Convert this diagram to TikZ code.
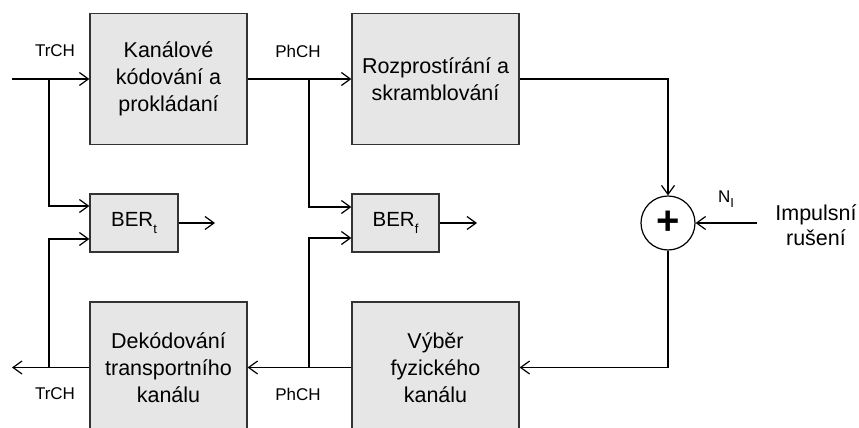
\documentclass[tikz,border=0pt]{standalone}
\usepackage{fontspec}
\setmainfont{Liberation Sans}
\usetikzlibrary{arrows.meta}
\definecolor{boxfill}{HTML}{E6E6E6}
\definecolor{boxdraw}{HTML}{333333}
\newcommand{\lowsub}[1]{\raisebox{-0.3em}{\fontsize{13}{13}\selectfont #1}}
\tikzset{
  blk/.style={draw=boxdraw, fill=boxfill, line width=1.2pt, inner sep=0pt, align=center,
    font=\fontsize{21.5}{27}\selectfont},
  bigblk/.style={blk, minimum width=157pt, minimum height=131pt},
  berblk/.style={blk, minimum width=88pt, minimum height=58pt, font=\fontsize{20.5}{24}\selectfont},
  arr/.style={line width=1.2pt, -{Straight Barb[length=9pt,width=13pt,line width=1.2pt]}},
  lbl/.style={font=\fontsize{17}{20}\selectfont, inner sep=0pt},
}
\begin{document}
\begin{tikzpicture}[x=1pt,y=-1pt]
\useasboundingbox (0,0) rectangle (859,428);
\clip (0,0) rectangle (859,428);
% blocks
\node[bigblk] (k1) at (168.5,79) {Kanálové\\kódování a\\prokládaní};
\node[bigblk, minimum width=167pt] (k2) at (435.5,79) {Rozprostírání a\\skramblování};
\node[berblk] (bt) at (134,223) {BER\lowsub{t}};
\node[berblk, minimum width=87pt] (bf) at (395.5,223) {BER\lowsub{f}};
\node[draw, circle, line width=1.2pt, minimum size=54pt, inner sep=0pt, font=\fontsize{40}{40}\selectfont\bfseries] (sum) at (668,223) {+};
\node[bigblk] (d1) at (168.5,367.5) {Dekódování\\transportního\\kanálu};
\node[bigblk, minimum width=167pt] (d2) at (435.5,367.5) {Výběr\\fyzického\\kanálu};
% coordinates
\coordinate (in) at (12,79);
\coordinate (b1) at (49,79);
\coordinate (b2) at (309,79);
\coordinate (out) at (12,367.5);
\coordinate (b3) at (49,367.5);
\coordinate (b4) at (309,367.5);
\coordinate (imp) at (757,223);
\coordinate (bto) at (215,223);
\coordinate (bfo) at (477,223);
% connectors
\draw[arr] (in) -- (k1.west);
\draw[arr] (b1) |- ([yshift=17pt]bt.west);
\draw[arr] (k1.east) -- (k2.west);
\draw[arr] (b2) |- ([yshift=16pt]bf.west);
\draw[arr] (k2.east) -| (sum.north);
\draw[arr] (imp) -- (sum.east);
\draw[arr] (sum.south) |- (d2.east);
\draw[arr] (d2.west) -- (d1.east);
\draw[arr] (d1.west) -- (out);
\draw[arr] (b3) |- ([yshift=-16pt]bt.west);
\draw[arr] (b4) |- ([yshift=-15pt]bf.west);
\draw[arr] (bt.east) -- (bto);
\draw[arr] (bf.east) -- (bfo);
% labels
\node[lbl] (l1) at (55,51) {TrCH};
\node[lbl] (l2) at (298,51) {PhCH};
\node[lbl] (l3) at (55,394) {TrCH};
\node[lbl] (l4) at (298,394) {PhCH};
\node[lbl] (ni) at (726,199) {N\lowsub{I}};
\node[align=center, inner sep=0pt, font=\fontsize{21.5}{25}\selectfont] (imptxt) at (816,225) {Impulsní\\rušení};
\end{tikzpicture}
\end{document}
